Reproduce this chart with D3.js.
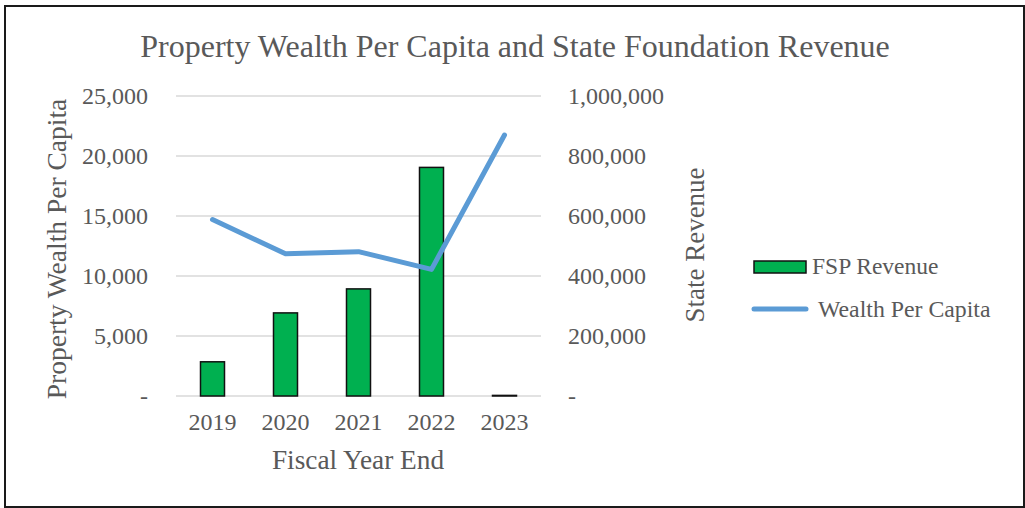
<!DOCTYPE html>
<html>
<head>
<meta charset="utf-8">
<script src="https://cdn.jsdelivr.net/npm/d3@7/dist/d3.min.js"></script>
<style>
  html, body { margin: 0; padding: 0; background: #fff; }
  svg { display: block; }
  text { font-family: "Liberation Serif", "Times New Roman", serif; fill: #595959; }
</style>
</head>
<body>
<svg id="chart" width="1025" height="508"></svg>
<script>
const years = ["2019", "2020", "2021", "2022", "2023"];
const fspRevenue = [114000, 277000, 357000, 762000, 2000];
const wealthPerCapita = [14700, 11850, 12030, 10550, 21750];
const leftTicks = [0, 5000, 10000, 15000, 20000, 25000];
const rightTicks = [0, 200000, 400000, 600000, 800000, 1000000];
const title = "Property Wealth Per Capita and State Foundation Revenue";

const svg = d3.select("#chart");
const W = 1025, H = 508;

// frame
svg.append("rect").attr("x", 5).attr("y", 6).attr("width", W - 6).attr("height", H - 7)
  .attr("fill", "#fff").attr("stroke", "#1a1a1a").attr("stroke-width", 2);

const plot = { left: 176, right: 541, top: 96, bottom: 396 };

const x = d3.scaleBand().domain(years).range([plot.left, plot.right]).paddingInner(0).paddingOuter(0);
const yL = d3.scaleLinear().domain([0, 25000]).range([plot.bottom, plot.top]);
const yR = d3.scaleLinear().domain([0, 1000000]).range([plot.bottom, plot.top]);

const fmt = v => v === 0 ? "-" : d3.format(",")(v);

// gridlines
svg.append("g").selectAll("line").data(leftTicks).join("line")
  .attr("x1", plot.left).attr("x2", plot.right)
  .attr("y1", d => yL(d)).attr("y2", d => yL(d))
  .attr("stroke", "#d9d9d9").attr("stroke-width", 1.5);

// left axis
const gL = svg.append("g").attr("transform", `translate(${plot.left},0)`)
  .call(d3.axisLeft(yL).tickValues(leftTicks).tickFormat(fmt).tickSize(0).tickPadding(28));
gL.select(".domain").remove();
gL.selectAll("text").style("font-size", "24px").attr("fill", "#595959")
  .attr("font-family", "Liberation Serif").attr("dy", "0.3em");

// right axis
const gR = svg.append("g").attr("transform", `translate(${plot.right},0)`)
  .call(d3.axisRight(yR).tickValues(rightTicks).tickFormat(fmt).tickSize(0).tickPadding(27));
gR.select(".domain").remove();
gR.selectAll("text").style("font-size", "24px").attr("fill", "#595959")
  .attr("font-family", "Liberation Serif").attr("dy", "0.3em");

// x axis
const gX = svg.append("g").attr("transform", `translate(0,${plot.bottom})`)
  .call(d3.axisBottom(x).tickSize(0).tickPadding(17));
gX.select(".domain").remove();
gX.selectAll("text").style("font-size", "24px").attr("fill", "#595959")
  .attr("font-family", "Liberation Serif");

// bars
const bw = 24;
svg.append("g").selectAll("rect").data(years.map((y, i) => ({ y, v: fspRevenue[i] }))).join("rect")
  .attr("x", d => x(d.y) + x.bandwidth() / 2 - bw / 2)
  .attr("width", bw)
  .attr("y", d => yR(d.v))
  .attr("height", d => plot.bottom - yR(d.v))
  .attr("fill", "#00b050").attr("stroke", "#111").attr("stroke-width", 1.5);

// line
const line = d3.line().x((d, i) => x(years[i]) + x.bandwidth() / 2).y(d => yL(d));
svg.append("path").datum(wealthPerCapita).attr("d", line)
  .attr("fill", "none").attr("stroke", "#5b9bd5").attr("stroke-width", 5)
  .attr("stroke-linecap", "round").attr("stroke-linejoin", "round");

// title
svg.append("text").attr("x", 515).attr("y", 57).attr("text-anchor", "middle")
  .style("font-size", "32px").text(title);

// axis titles
svg.append("text").attr("transform", "translate(66,249) rotate(-90)").attr("text-anchor", "middle")
  .style("font-size", "27.5px").text("Property Wealth Per Capita");
svg.append("text").attr("transform", "translate(704,245) rotate(-90)").attr("text-anchor", "middle")
  .style("font-size", "27px").text("State Revenue");
svg.append("text").attr("x", 358).attr("y", 469).attr("text-anchor", "middle")
  .style("font-size", "27.3px").text("Fiscal Year End");

// legend
const lg = svg.append("g");
lg.append("rect").attr("x", 754).attr("y", 261).attr("width", 52).attr("height", 12)
  .attr("fill", "#00b050").attr("stroke", "#111").attr("stroke-width", 1.5);
lg.append("text").attr("x", 812).attr("y", 274).style("font-size", "23.5px").text("FSP Revenue");
lg.append("line").attr("x1", 754).attr("x2", 806).attr("y1", 309).attr("y2", 309)
  .attr("stroke", "#5b9bd5").attr("stroke-width", 5).attr("stroke-linecap", "round");
lg.append("text").attr("x", 818).attr("y", 317).style("font-size", "23.8px").text("Wealth Per Capita");
</script>
</body>
</html>
